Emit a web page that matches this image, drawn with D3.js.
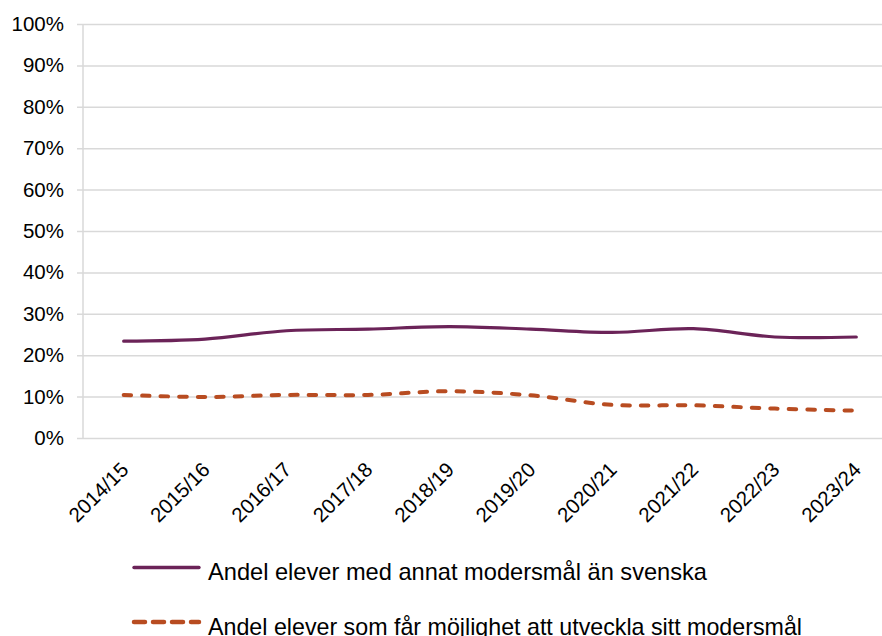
<!DOCTYPE html>
<html>
<head>
<meta charset="utf-8">
<script src="https://cdn.jsdelivr.net/npm/d3@7"></script>
<style>
  body { margin: 0; background: #fff; }
  text { font-family: "Liberation Sans", Arial, sans-serif; fill: #000; }
</style>
</head>
<body>
<div id="chart"></div>
<script>
// school years on the x axis
var years = ["2014/15", "2015/16", "2016/17", "2017/18", "2018/19",
             "2019/20", "2020/21", "2021/22", "2022/23", "2023/24"];
// share of pupils with another mother tongue than Swedish
var annatModersmal = [0.234, 0.239, 0.259, 0.263, 0.269, 0.263, 0.255, 0.264, 0.244, 0.244];
// share of pupils who get to develop their mother tongue
var utvecklaModersmal = [0.104, 0.099, 0.104, 0.104, 0.113, 0.103, 0.080, 0.079, 0.071, 0.066];
var yTicks = [0, 0.1, 0.2, 0.3, 0.4, 0.5, 0.6, 0.7, 0.8, 0.9, 1];
var seriesNames = ["Andel elever med annat modersmål än svenska",
                   "Andel elever som får möjlighet att utveckla sitt modersmål"];

var W = 882, H = 636;
var pLeft = 83, pRight = 897, pTop = 24, pBottom = 438;

var svg = d3.select("#chart")
    .append("svg")
    .attr("width", W)
    .attr("height", H);

var x = d3.scaleBand()
    .domain(years)
    .range([pLeft, pRight]);

var y = d3.scaleLinear()
    .domain([0, 1])
    .range([pBottom, pTop]);

// gridlines + y labels
var yAxis = svg.append("g")
    .attr("transform", "translate(" + (pLeft - 6) + ",0)")
    .call(d3.axisLeft(y)
        .tickValues(yTicks)
        .tickFormat(d3.format(".0%"))
        .tickSize(-(pRight - pLeft + 6))
        .tickPadding(13));
yAxis.select(".domain").remove();
yAxis.selectAll(".tick line")
    .attr("stroke", "#d9d9d9")
    .attr("stroke-width", 1.5);
yAxis.selectAll(".tick text")
    .style("font-size", "20.5px");

// vertical axis line
svg.append("line")
    .attr("x1", pLeft).attr("x2", pLeft)
    .attr("y1", pTop).attr("y2", pBottom)
    .attr("stroke", "#d9d9d9")
    .attr("stroke-width", 1.5);

// x labels
var xAxis = svg.append("g")
    .attr("transform", "translate(0," + pBottom + ")")
    .call(d3.axisBottom(x).tickSize(0));
xAxis.select(".domain").remove();
xAxis.selectAll(".tick text")
    .style("font-size", "20.5px")
    .attr("text-anchor", "end")
    .attr("y", 0)
    .attr("dy", 0)
    .attr("transform", "translate(6,33) rotate(-45)");

var line = d3.line()
    .x(function (d, i) { return x(years[i]) + x.bandwidth() / 2; })
    .y(function (d) { return y(d); })
    .curve(d3.curveCatmullRom.alpha(0.5));

svg.append("path")
    .datum(annatModersmal)
    .attr("fill", "none")
    .attr("stroke", "#6b2358")
    .attr("stroke-width", 3.2)
    .attr("stroke-linecap", "round")
    .attr("d", line);

svg.append("path")
    .datum(utvecklaModersmal)
    .attr("fill", "none")
    .attr("stroke", "#b84c21")
    .attr("stroke-width", 4)
    .attr("stroke-linecap", "round")
    .attr("stroke-dasharray", "7.5,11")
    .attr("d", line);

// legend
var legend = svg.append("g");
var legendY = [567.5, 622];
var legendW = [499, 594];
var legendStyle = [
    {color: "#6b2358", dash: null, w: 3.4},
    {color: "#b84c21", dash: "11,8", w: 4.5}
];
legendStyle.forEach(function (s, i) {
    legend.append("line")
        .attr("x1", 134).attr("x2", 199)
        .attr("y1", legendY[i]).attr("y2", legendY[i])
        .attr("stroke", s.color)
        .attr("stroke-width", s.w)
        .attr("stroke-linecap", "round")
        .attr("stroke-dasharray", s.dash);
    legend.append("text")
        .attr("x", 208)
        .attr("y", legendY[i] + 12.5)
        .style("font-size", "24px")
        .attr("textLength", legendW[i])
        .attr("lengthAdjust", "spacingAndGlyphs")
        .text(seriesNames[i]);
});
</script>
</body>
</html>
